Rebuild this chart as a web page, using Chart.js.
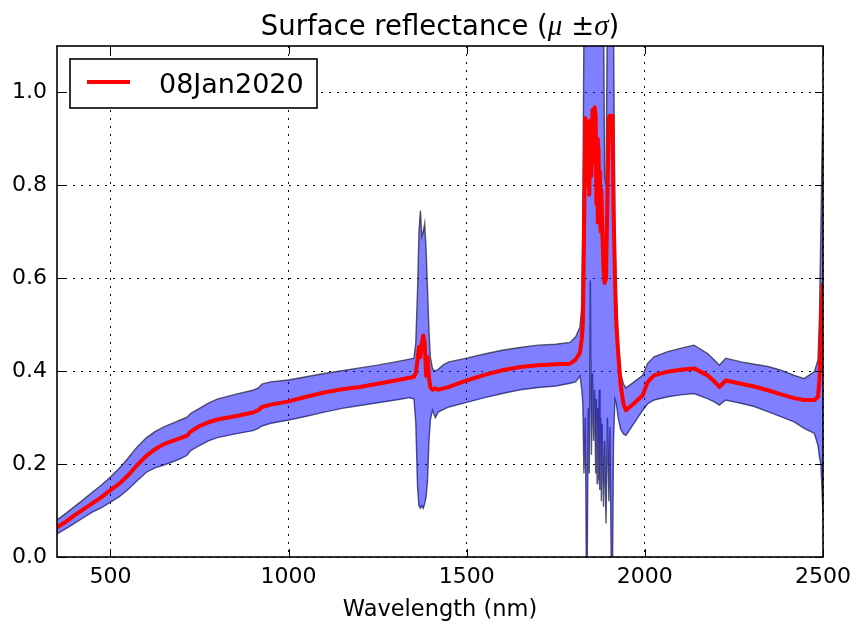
<!DOCTYPE html>
<html>
<head>
<meta charset="utf-8">
<title>Surface reflectance</title>
<script src="https://cdn.jsdelivr.net/npm/chart.js@4.4.1/dist/chart.umd.min.js"></script>
<style>
  html, body { margin: 0; padding: 0; background: #fff; }
  canvas { display: block; }
</style>
</head>
<body>
<canvas id="reflChart" width="852" height="622"></canvas>
<script>
// wavelength (nm) and reflectance: mean, mean+sigma, mean-sigma
var wavelength = [
  350, 375, 400, 425, 450, 475, 500, 525, 550, 575, 600, 625, 650, 675, 700, 715, 725, 750, 775, 800,
  850, 900, 915, 925, 950, 1000, 1050, 1100, 1150, 1200, 1250, 1300, 1340, 1352,
  1357, 1362, 1366, 1370, 1374, 1378, 1382, 1386, 1390, 1394, 1398, 1404, 1412, 1420, 1435,
  1450, 1500, 1550, 1600, 1650, 1700, 1750, 1790, 1806, 1818, 1823, 1826, 1829, 1833,
  1836, 1838, 1841, 1844, 1847, 1850, 1853, 1856, 1859, 1862, 1864, 1866, 1868, 1870, 1872, 1874, 1876, 1878, 1880, 1884,
  1887, 1891, 1895, 1899, 1902, 1906, 1909, 1912, 1916, 1920, 1925, 1932, 1940, 1947,
  1970, 1994, 2008, 2026, 2064, 2100, 2138, 2176, 2195, 2209, 2227, 2270, 2307, 2345, 2382, 2419,
  2447, 2476, 2486, 2490, 2494, 2497, 2500
];
var meanRefl = [
  0.064, 0.076, 0.090, 0.103, 0.116, 0.129, 0.144, 0.158, 0.176, 0.198, 0.217, 0.232, 0.243, 0.250, 0.257, 0.261, 0.270, 0.282, 0.290, 0.296,
  0.303, 0.311, 0.316, 0.323, 0.328, 0.335, 0.345, 0.354, 0.361, 0.366, 0.373, 0.380, 0.386, 0.388,
  0.395, 0.424, 0.452, 0.430, 0.460, 0.477, 0.460, 0.390, 0.430, 0.387, 0.365, 0.360, 0.363, 0.360, 0.363,
  0.366, 0.380, 0.392, 0.402, 0.409, 0.413, 0.415, 0.416, 0.425, 0.440, 0.470, 0.503, 0.680, 0.945,
  0.930, 0.800, 0.935, 0.780, 0.940, 0.820, 0.962, 0.850, 0.968, 0.950, 0.760, 0.900, 0.720, 0.880, 0.740, 0.830, 0.700, 0.790, 0.720, 0.620,
  0.590, 0.600, 0.780, 0.947, 0.950, 0.930, 0.950, 0.750, 0.600, 0.500, 0.440, 0.370, 0.330, 0.316,
  0.331, 0.348, 0.377, 0.391, 0.399, 0.403, 0.406, 0.391, 0.378, 0.366, 0.380, 0.373, 0.367, 0.359, 0.350, 0.342,
  0.338, 0.338, 0.345, 0.380, 0.470, 0.550, 0.590
];
var upperRefl = [
  0.080, 0.094, 0.109, 0.124, 0.140, 0.155, 0.172, 0.191, 0.213, 0.237, 0.256, 0.270, 0.280, 0.288, 0.296, 0.301, 0.309, 0.320, 0.331, 0.340,
  0.350, 0.359, 0.364, 0.372, 0.377, 0.381, 0.388, 0.395, 0.401, 0.407, 0.413, 0.420, 0.426, 0.428,
  0.460, 0.574, 0.700, 0.746, 0.690, 0.700, 0.718, 0.660, 0.574, 0.488, 0.430, 0.405, 0.400, 0.404, 0.414,
  0.420, 0.428, 0.437, 0.445, 0.451, 0.456, 0.458, 0.462, 0.474, 0.495, 0.540, 0.750, 1.150, 1.200,
  1.200, 1.200, 1.200, 1.200, 1.200, 1.200, 1.200, 1.200, 1.200, 1.200, 1.200, 1.200, 1.200, 1.200, 1.200, 1.200, 1.200, 1.200, 1.200, 1.200,
  0.820, 0.800, 1.200, 1.200, 1.200, 1.200, 1.200, 1.150, 0.700, 0.560, 0.470, 0.395, 0.372, 0.364,
  0.377, 0.391, 0.417, 0.431, 0.442, 0.449, 0.456, 0.438, 0.424, 0.413, 0.428, 0.420, 0.415, 0.410, 0.402, 0.391,
  0.384, 0.399, 0.424, 0.517, 0.700, 0.860, 0.990
];
var lowerRefl = [
  0.050, 0.061, 0.073, 0.085, 0.097, 0.106, 0.118, 0.130, 0.146, 0.164, 0.182, 0.192, 0.198, 0.205, 0.213, 0.219, 0.229, 0.240, 0.250, 0.257,
  0.265, 0.272, 0.277, 0.282, 0.288, 0.295, 0.303, 0.312, 0.320, 0.326, 0.332, 0.338, 0.343, 0.340,
  0.290, 0.150, 0.110, 0.105, 0.110, 0.105, 0.115, 0.130, 0.165, 0.250, 0.295, 0.316, 0.300, 0.312, 0.318,
  0.323, 0.333, 0.343, 0.352, 0.360, 0.365, 0.368, 0.374, 0.377, 0.390, 0.360, 0.330, 0.180, 0.300,
  -0.050, -0.050, 0.320, 0.180, 0.595, 0.220, 0.395, 0.250, 0.360, 0.180, 0.340, 0.158, 0.320, 0.165, 0.360, 0.144, 0.300, 0.120, 0.287, 0.108,
  0.250, 0.072, 0.300, 0.120, 0.280, -0.050, -0.050, 0.250, 0.340, 0.330, 0.300, 0.275, 0.265, 0.262,
  0.288, 0.316, 0.330, 0.338, 0.345, 0.349, 0.352, 0.341, 0.334, 0.327, 0.338, 0.331, 0.324, 0.313, 0.302, 0.291,
  0.277, 0.266, 0.240, 0.216, 0.200, 0.150, 0.090
];
var xTickValues = [500, 1000, 1500, 2000, 2500];
var yTickValues = [0, 0.2, 0.4, 0.6, 0.8, 1.0];
var legendLabel = "08Jan2020";

function toPoints(ys) {
  return wavelength.map(function (w, i) { return { x: w, y: ys[i] }; });
}

// frame, inward ticks, legend box and the title with the greek letters
var decorPlugin = {
  id: "decor",
  afterDraw: function (chart) {
    var ctx = chart.ctx;
    var a = chart.chartArea;
    var xs = chart.scales.x, ys = chart.scales.y;
    var tick = 8;
    ctx.save();
    ctx.strokeStyle = "#000";
    ctx.lineWidth = 1;
    xTickValues.forEach(function (v) {
      var px = Math.round(xs.getPixelForValue(v)) + 0.5;
      ctx.beginPath();
      ctx.moveTo(px, a.bottom); ctx.lineTo(px, a.bottom - tick);
      ctx.moveTo(px, a.top); ctx.lineTo(px, a.top + tick);
      ctx.stroke();
    });
    yTickValues.forEach(function (v) {
      var py = Math.round(ys.getPixelForValue(v)) + 0.5;
      ctx.beginPath();
      ctx.moveTo(a.left, py); ctx.lineTo(a.left + tick, py);
      ctx.moveTo(a.right, py); ctx.lineTo(a.right - tick, py);
      ctx.stroke();
    });
    ctx.lineWidth = 1.6;
    ctx.strokeRect(a.left, a.top, a.right - a.left, a.bottom - a.top);

    // legend
    var lx = a.left + 13, ly = a.top + 13, lw = 247, lh = 49;
    ctx.fillStyle = "#fff";
    ctx.fillRect(lx, ly, lw, lh);
    ctx.lineWidth = 1.6;
    ctx.strokeRect(lx, ly, lw, lh);
    var ds = chart.data.datasets[0];
    ctx.strokeStyle = ds.borderColor;
    ctx.lineWidth = 4;
    ctx.beginPath();
    ctx.moveTo(lx + 17, ly + 23); ctx.lineTo(lx + 60, ly + 23);
    ctx.stroke();
    ctx.fillStyle = "#000";
    ctx.font = '27px "DejaVu Sans"';
    ctx.textBaseline = "alphabetic";
    ctx.textAlign = "left";
    ctx.fillText(ds.label, lx + 89, ly + 34);

    // title
    var parts = [
      { t: "Surface reflectance (", f: '27.5px "DejaVu Sans"' },
      { t: "\u03bc", f: 'italic 29px "Liberation Serif"' },
      { t: " \u00b1", f: '27.5px "DejaVu Sans"' },
      { t: "\u03c3", f: 'italic 29px "Liberation Serif"' },
      { t: ")", f: '27.5px "DejaVu Sans"' }
    ];
    var total = 0;
    parts.forEach(function (p) { ctx.font = p.f; p.w = ctx.measureText(p.t).width; total += p.w; });
    var x = (a.left + a.right) / 2 - total / 2;
    parts.forEach(function (p) { ctx.font = p.f; ctx.fillText(p.t, x, 35); x += p.w; });
    ctx.restore();
  }
};

var ctx = document.getElementById("reflChart").getContext("2d");
var chart = new Chart(ctx, {
  type: "line",
  data: {
    datasets: [
      {
        label: legendLabel,
        data: toPoints(meanRefl),
        borderColor: "#ff0000",
        borderWidth: 4,
        borderJoinStyle: "round",
        pointRadius: 0,
        fill: false,
        tension: 0
      },
      {
        label: "mean + sigma",
        data: toPoints(upperRefl),
        borderColor: "rgba(35,35,60,0.75)",
        borderWidth: 1.4,
        backgroundColor: "rgba(0,0,255,0.5)",
        pointRadius: 0,
        fill: "+1",
        tension: 0
      },
      {
        label: "mean - sigma",
        data: toPoints(lowerRefl),
        borderColor: "rgba(35,35,60,0.75)",
        borderWidth: 1.4,
        pointRadius: 0,
        fill: false,
        tension: 0
      }
    ]
  },
  options: {
    responsive: false,
    animation: false,
    devicePixelRatio: 1,
    layout: { padding: { top: 46, right: 29, left: 0, bottom: 0 } },
    plugins: {
      legend: { display: false },
      tooltip: { enabled: false },
      title: { display: false },
      filler: { propagate: false }
    },
    scales: {
      x: {
        type: "linear",
        min: 350,
        max: 2500,
        afterFit: function (scale) {
          scale.height = 65;
          scale.paddingLeft = 0;
          scale.paddingRight = 0;
        },
        afterBuildTicks: function (scale) {
          scale.ticks = xTickValues.map(function (v) { return { value: v }; });
        },
        ticks: {
          color: "#000",
          padding: 7,
          maxRotation: 0,
          font: { family: "DejaVu Sans", size: 22 },
          callback: function (v) { return String(v); }
        },
        grid: { color: "#000", lineWidth: 1, drawTicks: false },
        border: { display: false, dash: [2, 6] },
        title: {
          display: true,
          text: "Wavelength (nm)",
          color: "#000",
          font: { family: "DejaVu Sans", size: 22.5, lineHeight: 1 },
          padding: { top: 0, bottom: 1 }
        }
      },
      y: {
        min: 0,
        max: 1.1,
        afterFit: function (scale) {
          scale.width = 57;
          scale.paddingTop = 0;
          scale.paddingBottom = 0;
        },
        afterBuildTicks: function (scale) {
          scale.ticks = yTickValues.map(function (v) { return { value: v }; });
        },
        ticks: {
          color: "#000",
          padding: 10,
          font: { family: "DejaVu Sans", size: 22 },
          callback: function (v) { return Number(v).toFixed(1); }
        },
        grid: { color: "#000", lineWidth: 1, drawTicks: false },
        border: { display: false, dash: [2, 6] }
      }
    }
  },
  plugins: [decorPlugin]
});
</script>
</body>
</html>
